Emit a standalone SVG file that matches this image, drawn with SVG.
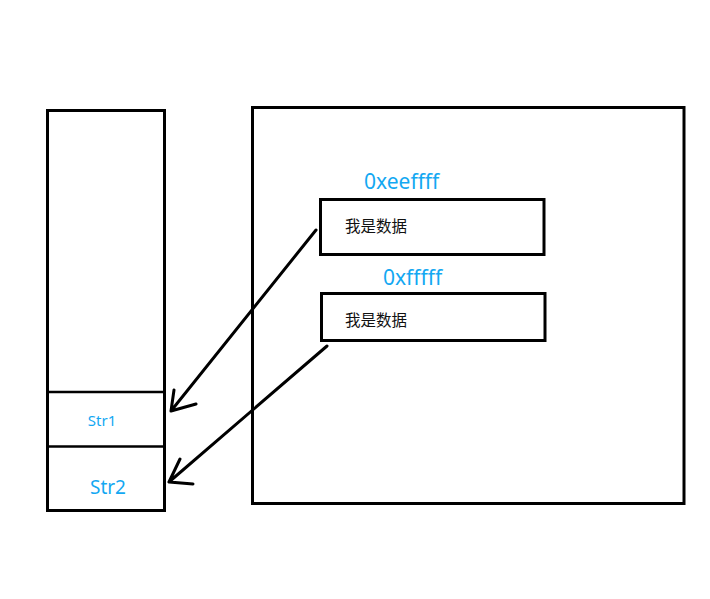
<svg xmlns="http://www.w3.org/2000/svg" width="710" height="599" viewBox="0 0 710 599">
<style>
.box{fill:none;stroke:#000;stroke-width:3}
.div{stroke:#000;stroke-width:2.5}
.blue{fill:#13a8f2;font-family:"Noto Sans","Liberation Sans",sans-serif}
.cn{fill:#111;font-family:"Noto Sans CJK SC",sans-serif;font-size:15.5px}
.arr{fill:none;stroke:#000;stroke-width:3;stroke-linecap:round;stroke-linejoin:round}
</style>
<rect width="710" height="599" fill="#fff"/>
<g id="stack">
<rect class="box" x="47.5" y="110.5" width="117" height="400"/>
<line class="div" x1="47" y1="392" x2="165" y2="392"/>
<line class="div" x1="47" y1="446.5" x2="165" y2="446.5"/>
<text class="blue" x="102" y="426" font-size="15" text-anchor="middle">Str1</text>
<text class="blue" x="108" y="494" font-size="19" text-anchor="middle">Str2</text>
</g>
<g id="heap">
<rect class="box" x="252.5" y="107.5" width="431.5" height="396"/>
</g>
<g id="data1">
<text class="blue" x="364" y="189" font-size="21">0xeeffff</text>
<rect class="box" x="320.5" y="199.5" width="223.5" height="55"/>
<text class="cn" x="345" y="231.5">我是数据</text>
</g>
<g id="data2">
<text class="blue" x="383" y="285" font-size="21">0xfffff</text>
<rect class="box" x="321.5" y="293.5" width="223.5" height="47"/>
<text class="cn" x="345" y="325.5">我是数据</text>
</g>
<g id="connectors">
<path class="arr" d="M316 230 L171 411 M174 390 L171 411 L196 404"/>
<path class="arr" d="M327 346 L169 482 M180 459 L169 482 L193 484"/>
</g>
</svg>
